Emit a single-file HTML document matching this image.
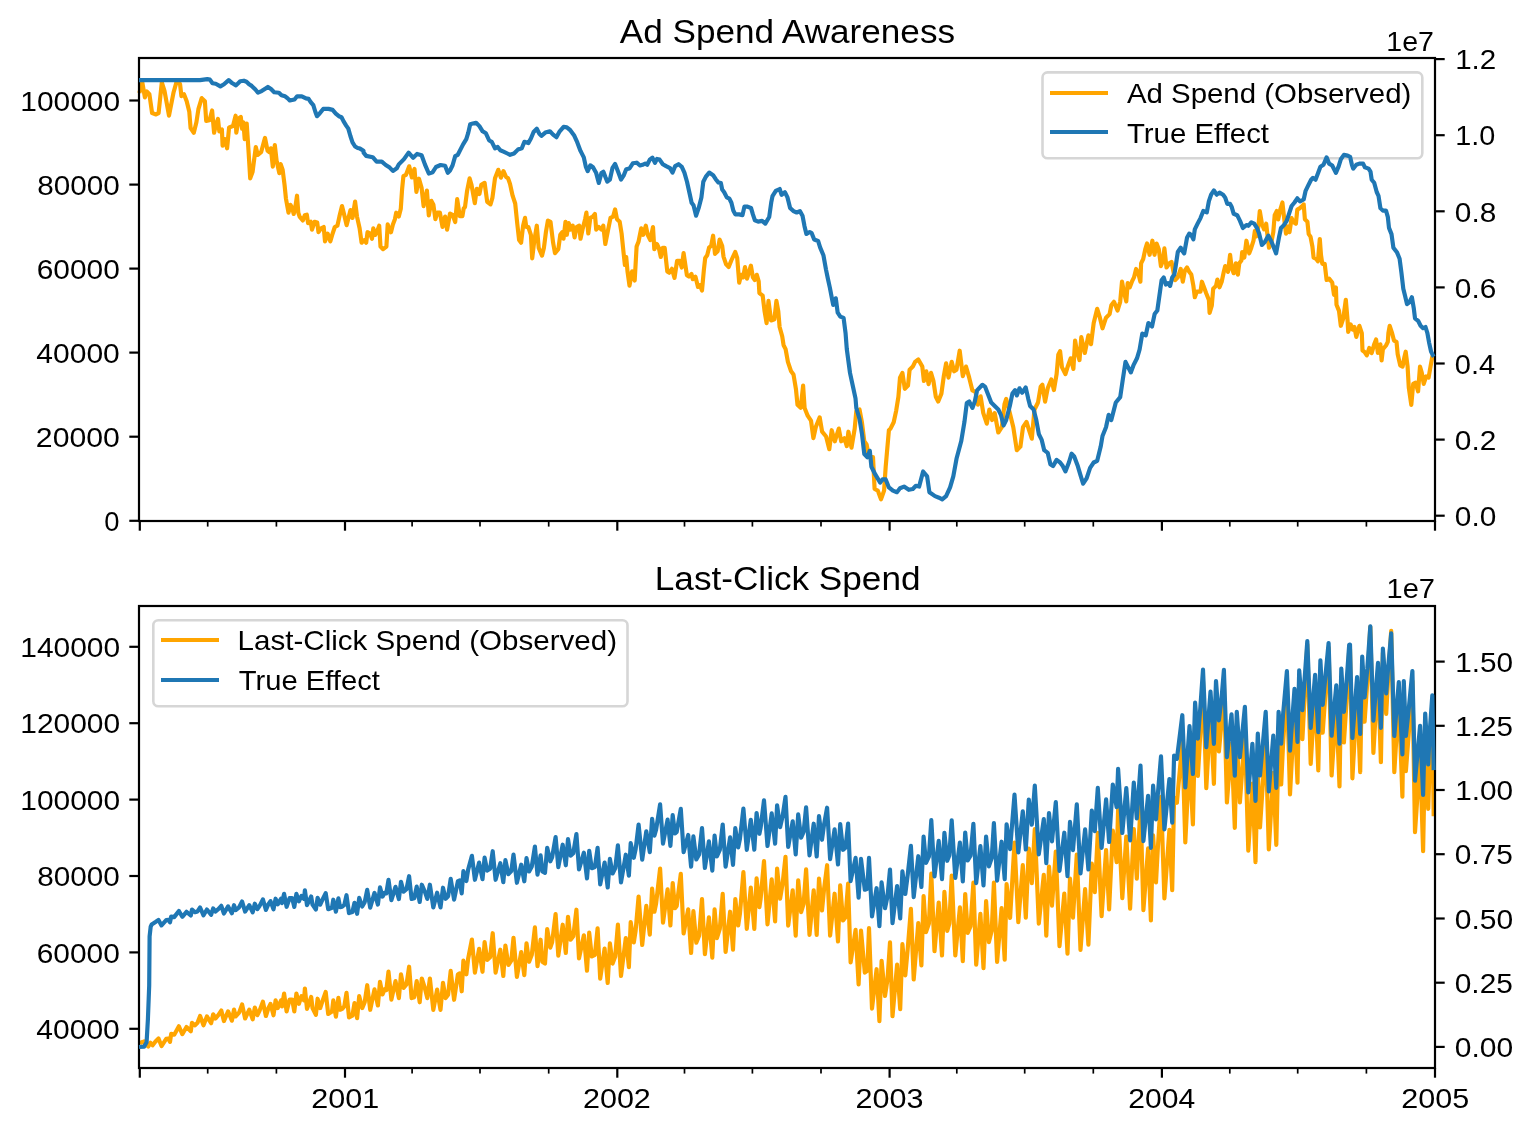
<!DOCTYPE html>
<html><head><meta charset="utf-8"><style>
html,body{margin:0;padding:0;background:#fff;overflow:hidden;}
svg{display:block;-webkit-font-smoothing:antialiased;will-change:transform;}
text{font-family:"Liberation Sans", sans-serif;fill:#000;}
</style></head><body>
<svg width="1532" height="1132" viewBox="0 0 1532 1132">
<rect width="1532" height="1132" fill="#fff"/>
<path d="M139.3,93.0 L140.3,89.6 L142.3,82.4 L144.9,97.4 L146.8,91.5 L149.4,94.2 L152.1,113.1 L156.0,114.4 L158.6,113.1 L161.8,82.4 L164.5,90.9 L169.0,115.7 L173.6,92.2 L176.2,83.1 L178.2,80.4 L180.1,84.4 L181.4,96.1 L184.0,94.2 L186.7,101.3 L189.3,111.8 L190.6,128.1 L193.8,132.7 L196.4,122.2 L198.4,109.2 L201.7,98.1 L204.9,101.3 L206.2,120.9 L209.5,120.3 L212.1,110.5 L214.1,132.7 L216.0,124.2 L218.0,119.0 L219.3,131.4 L221.9,129.4 L222.6,145.7 L225.2,139.2 L227.1,148.3 L229.1,127.4 L233.0,126.1 L235.6,115.7 L236.3,132.7 L238.9,118.3 L240.8,117.0 L242.1,128.7 L243.4,122.2 L244.7,139.2 L246.7,123.5 L248.7,153.6 L250.2,178.4 L252.6,171.8 L253.9,161.4 L255.8,147.0 L257.8,154.9 L261.1,152.2 L265.0,137.9 L267.6,150.9 L269.5,152.2 L270.9,148.3 L272.8,166.6 L274.8,145.1 L276.7,161.4 L279.3,173.1 L280.6,164.0 L282.6,169.6 L284.6,185.2 L285.9,198.3 L288.5,212.7 L290.4,204.8 L292.4,208.7 L293.7,214.0 L295.7,204.8 L297.0,195.7 L298.3,212.7 L299.6,216.6 L302.8,220.5 L304.8,215.3 L306.8,214.6 L308.1,223.1 L310.7,221.8 L312.0,229.6 L314.6,221.8 L317.2,222.5 L318.5,232.2 L321.1,228.3 L323.7,227.0 L325.0,241.4 L327.7,233.6 L330.3,241.4 L332.2,234.9 L334.8,227.0 L337.4,225.7 L339.4,216.6 L342.0,206.1 L344.0,214.0 L346.6,225.1 L348.5,217.9 L350.5,210.1 L352.5,217.9 L355.1,201.6 L357.0,216.6 L359.6,228.3 L361.6,242.7 L364.2,240.1 L366.2,242.7 L367.5,232.2 L370.1,233.6 L372.0,238.8 L373.3,228.3 L375.3,234.9 L377.3,230.9 L379.2,225.7 L380.5,246.6 L383.1,249.2 L386.4,246.6 L387.7,224.4 L389.0,228.3 L391.0,232.2 L392.9,224.4 L394.9,219.2 L396.2,212.7 L398.8,216.6 L400.8,208.7 L402.1,189.2 L403.4,176.1 L406.0,174.8 L409.2,166.3 L411.9,177.4 L414.5,168.9 L416.4,191.8 L419.0,178.7 L421.6,187.9 L423.6,206.1 L426.9,190.5 L428.8,215.3 L431.4,200.9 L433.4,204.8 L435.4,219.2 L437.3,212.7 L439.9,212.7 L442.5,227.0 L445.1,216.6 L447.1,229.6 L450.0,213.6 L452.6,214.9 L455.2,222.1 L457.2,199.2 L459.8,216.2 L462.4,216.2 L463.7,208.4 L465.0,207.0 L467.0,191.4 L469.6,178.3 L471.5,184.9 L474.8,203.1 L476.8,188.8 L479.4,194.0 L481.3,184.9 L484.6,182.9 L487.2,201.8 L490.5,204.4 L492.4,197.9 L495.0,178.3 L498.3,169.8 L500.9,177.7 L503.5,171.1 L506.1,177.0 L508.1,178.3 L510.0,183.9 L512.6,195.7 L515.2,203.5 L517.2,223.1 L519.1,240.1 L521.1,242.7 L523.1,225.7 L525.0,217.9 L526.3,227.0 L528.3,227.0 L530.9,234.8 L532.2,258.3 L534.2,241.4 L536.8,225.7 L538.7,247.9 L542.0,255.7 L543.9,247.9 L545.9,232.2 L547.9,220.5 L550.5,221.8 L553.1,242.7 L555.0,253.1 L558.3,249.2 L560.3,234.8 L562.2,232.2 L563.5,238.7 L565.5,221.8 L566.8,234.8 L568.7,223.1 L570.7,229.6 L572.7,225.7 L574.6,237.4 L576.6,227.0 L579.2,225.7 L580.5,238.7 L582.5,229.6 L585.1,219.2 L586.4,212.6 L588.3,233.5 L590.3,217.9 L592.9,216.6 L594.9,213.9 L596.2,229.6 L598.8,227.0 L601.4,229.6 L603.3,225.7 L605.3,244.0 L607.9,230.9 L610.5,217.9 L613.1,216.6 L615.1,209.4 L617.0,219.2 L619.7,221.8 L621.6,233.5 L623.6,253.1 L624.9,264.9 L626.2,257.0 L627.5,271.4 L629.5,285.7 L632.1,271.4 L634.7,280.5 L636.6,246.6 L638.6,241.4 L641.2,228.3 L643.2,234.8 L645.8,225.7 L647.7,234.8 L650.3,240.1 L653.0,227.0 L654.3,249.2 L656.9,244.0 L658.8,247.9 L660.8,257.0 L662.7,247.9 L664.7,247.9 L667.3,271.4 L669.3,272.7 L671.9,268.8 L674.5,277.9 L677.1,260.9 L679.7,260.9 L681.7,267.5 L683.6,253.1 L686.9,275.3 L688.9,276.6 L691.5,274.0 L692.8,279.2 L695.4,276.6 L698.0,287.0 L700.0,285.3 L702.0,290.5 L703.9,269.6 L705.2,257.9 L707.2,255.2 L709.1,247.4 L711.1,246.1 L713.1,235.7 L715.0,253.9 L717.6,251.3 L719.6,239.6 L722.2,246.1 L723.5,256.6 L726.1,264.4 L728.7,267.0 L731.3,260.5 L735.2,252.0 L737.2,257.9 L739.2,282.7 L741.1,274.8 L743.1,277.4 L745.0,267.0 L747.0,278.7 L749.0,272.2 L750.9,265.7 L752.9,277.4 L754.8,280.1 L756.8,274.8 L758.7,281.4 L759.4,293.1 L762.7,295.7 L764.6,311.4 L766.6,323.1 L768.5,300.9 L771.1,320.5 L774.4,319.2 L776.4,300.9 L778.3,311.4 L779.6,327.0 L782.2,336.2 L783.6,345.3 L785.6,349.1 L787.9,361.8 L791.1,371.3 L793.5,374.5 L795.9,388.8 L797.5,404.7 L800.7,407.9 L803.1,385.6 L804.6,407.9 L807.8,415.9 L811.0,420.6 L813.4,438.1 L815.8,427.0 L819.7,417.4 L822.1,431.7 L826.1,436.5 L829.3,449.2 L831.7,430.2 L834.8,441.3 L838.8,428.6 L841.2,441.3 L844.4,438.1 L846.8,446.1 L848.4,431.7 L851.5,447.6 L854.7,428.6 L856.3,411.1 L859.5,409.5 L861.9,422.2 L864.3,441.3 L866.6,444.5 L869.0,457.2 L873.0,457.2 L874.6,489.0 L877.8,490.6 L881.0,499.3 L884.1,490.6 L885.7,466.7 L888.9,430.2 L890.5,428.6 L893.7,422.2 L896.1,411.1 L898.4,396.8 L900.0,377.7 L902.4,372.9 L904.8,388.8 L908.0,385.6 L909.6,369.7 L912.8,366.6 L915.1,361.8 L918.3,359.4 L922.3,366.6 L923.9,380.9 L926.3,371.3 L928.6,384.1 L931.0,372.9 L933.4,380.9 L935.8,396.8 L938.2,401.5 L941.4,393.6 L943.8,376.1 L946.1,363.4 L948.5,377.7 L951.7,361.8 L954.1,371.3 L956.5,369.7 L959.7,350.7 L962.8,376.1 L966.0,366.6 L969.2,377.7 L972.4,390.4 L975.5,392.0 L977.9,404.7 L980.6,396.3 L983.3,413.1 L986.8,423.7 L989.4,409.5 L992.1,420.1 L994.7,413.1 L998.3,432.5 L1001.8,427.2 L1004.5,404.2 L1006.2,398.9 L1009.8,413.1 L1013.3,427.2 L1016.8,450.2 L1020.4,446.6 L1023.0,427.2 L1026.5,421.9 L1029.2,430.7 L1031.8,438.7 L1034.5,409.5 L1038.0,402.5 L1040.7,386.6 L1042.4,384.8 L1045.1,401.6 L1047.7,388.3 L1051.3,379.5 L1053.9,390.1 L1056.6,374.2 L1058.3,354.8 L1060.1,351.2 L1061.9,367.1 L1065.4,374.2 L1068.1,365.4 L1070.7,358.3 L1073.4,368.9 L1075.1,340.6 L1076.9,351.2 L1079.5,360.1 L1081.3,337.1 L1084.8,353.0 L1088.4,335.3 L1091.0,344.2 L1093.7,323.0 L1097.2,308.8 L1099.9,317.7 L1102.5,328.3 L1106.0,317.7 L1109.6,314.1 L1111.3,305.3 L1114.0,301.8 L1117.5,310.6 L1120.2,301.8 L1122.0,281.7 L1124.1,293.0 L1126.3,301.4 L1127.7,283.1 L1129.8,287.3 L1131.9,281.7 L1134.0,277.4 L1136.1,268.9 L1138.3,273.2 L1140.4,281.7 L1141.1,263.3 L1143.2,259.0 L1145.3,249.2 L1147.0,243.5 L1149.6,254.8 L1152.4,240.7 L1154.5,254.8 L1156.6,243.5 L1158.8,249.2 L1160.9,266.1 L1163.0,260.5 L1164.4,248.4 L1166.5,267.5 L1169.4,263.3 L1171.5,261.9 L1172.9,268.9 L1175.0,280.2 L1177.8,277.4 L1180.7,268.9 L1182.8,281.7 L1184.9,270.4 L1187.0,267.5 L1189.2,271.8 L1191.3,274.6 L1193.4,285.9 L1194.8,297.2 L1196.9,291.6 L1200.5,291.6 L1201.9,281.7 L1204.0,287.3 L1206.1,293.0 L1208.9,300.0 L1209.6,312.8 L1211.8,305.7 L1213.2,288.7 L1216.0,285.9 L1217.4,279.5 L1219.5,287.3 L1221.7,281.7 L1223.8,271.8 L1225.2,266.1 L1228.0,271.8 L1230.1,254.8 L1231.6,267.5 L1233.7,273.2 L1235.8,263.3 L1237.9,274.6 L1239.3,263.3 L1241.4,260.5 L1242.2,252.0 L1244.3,257.6 L1246.4,240.7 L1249.2,253.4 L1251.3,247.7 L1253.5,240.7 L1254.9,230.8 L1256.3,236.4 L1258.4,226.5 L1259.8,211.0 L1261.9,223.7 L1264.1,229.4 L1266.2,223.7 L1267.6,236.4 L1269.0,247.7 L1271.1,243.5 L1273.3,232.2 L1274.7,215.2 L1276.8,211.0 L1278.2,219.5 L1280.3,209.6 L1282.4,202.5 L1284.6,222.3 L1286.0,233.6 L1288.1,226.5 L1289.5,232.2 L1291.6,218.1 L1293.7,222.3 L1295.9,223.7 L1297.3,209.6 L1300.0,208.1 L1302.5,205.7 L1303.7,204.4 L1304.9,219.3 L1307.4,221.7 L1308.7,234.1 L1310.5,236.6 L1312.4,246.5 L1313.6,257.6 L1316.1,258.8 L1317.9,261.3 L1319.8,239.0 L1321.0,255.1 L1322.3,263.8 L1324.7,263.8 L1326.6,279.9 L1329.1,278.6 L1332.2,282.5 L1334.0,294.8 L1335.9,287.4 L1336.5,304.7 L1339.0,310.9 L1340.8,325.8 L1343.3,318.3 L1345.8,299.8 L1347.6,320.8 L1348.2,331.9 L1350.7,324.5 L1352.6,329.5 L1354.4,327.0 L1356.3,336.9 L1359.4,325.8 L1361.8,333.2 L1362.5,350.5 L1364.3,351.7 L1366.8,355.4 L1369.3,348.0 L1371.7,353.0 L1374.2,344.3 L1376.1,339.4 L1377.9,353.0 L1380.4,344.3 L1381.6,360.4 L1382.9,349.3 L1386.0,345.5 L1387.8,341.8 L1388.4,333.2 L1389.7,325.8 L1392.1,333.2 L1394.0,340.6 L1396.5,341.8 L1397.7,354.2 L1400.2,365.3 L1402.6,366.6 L1404.5,356.7 L1405.7,351.7 L1407.6,366.6 L1408.8,387.6 L1411.3,404.9 L1413.2,383.9 L1415.6,382.6 L1418.1,391.3 L1420.0,366.6 L1421.8,372.8 L1423.7,383.9 L1426.1,376.5 L1428.6,377.7 L1430.5,366.6 L1432.3,356.7 L1433.6,355.4" fill="none" stroke="#ffa500" stroke-width="4.17" stroke-linejoin="round"/>
<path d="M139.8,1041.5 L141.5,1042.7 L144.1,1041.5 L145.8,1044.0 L148.3,1046.6 L150.5,1042.7 L152.6,1045.3 L155.5,1041.5 L158.5,1038.5 L161.5,1046.1 L166.2,1038.9 L168.3,1038.5 L170.0,1041.9 L171.2,1033.8 L174.2,1034.7 L176.3,1030.9 L178.9,1026.2 L182.3,1034.2 L186.5,1027.0 L190.8,1031.3 L192.0,1022.8 L195.0,1025.3 L197.5,1022.8 L200.1,1016.0 L203.5,1025.3 L206.9,1016.4 L211.1,1023.2 L213.2,1014.3 L215.4,1018.5 L218.3,1015.2 L221.3,1010.5 L223.9,1021.1 L228.1,1011.3 L231.9,1020.7 L234.0,1009.6 L235.7,1016.4 L239.1,1012.6 L242.1,1004.5 L245.1,1018.5 L249.3,1009.6 L252.7,1019.4 L254.8,1007.5 L257.4,1015.2 L259.5,1010.9 L262.9,1001.6 L265.9,1016.0 L268.4,1008.1 L270.5,1003.8 L273.5,1015.3 L275.6,1000.4 L277.7,1008.1 L281.1,1000.4 L282.0,1006.4 L284.1,993.6 L286.6,1011.5 L289.6,999.6 L292.2,999.6 L294.3,1011.5 L296.4,993.6 L298.9,1003.8 L301.5,996.2 L304.0,1000.4 L304.9,988.5 L307.0,1008.9 L311.2,997.0 L312.5,1008.1 L315.9,1014.9 L317.6,998.7 L320.2,1008.1 L322.7,1000.4 L325.7,991.9 L328.2,1014.0 L332.0,1011.5 L333.3,1000.4 L335.9,1016.6 L338.4,997.9 L340.1,1009.8 L342.2,1008.9 L344.3,1006.4 L346.5,992.8 L349.0,1017.4 L352.4,1015.7 L354.5,1003.0 L357.1,1018.2 L359.2,996.2 L362.2,1008.1 L364.7,1002.1 L367.2,985.2 L370.2,1009.8 L374.5,989.4 L377.9,1005.5 L380.0,981.8 L382.5,994.5 L384.6,989.4 L386.3,990.2 L388.5,971.6 L391.4,999.6 L395.5,981.1 L398.9,998.1 L401.0,974.3 L403.6,987.9 L406.5,984.5 L409.1,966.7 L411.6,998.1 L414.2,997.2 L416.7,981.1 L419.7,1002.3 L421.8,978.5 L424.8,987.9 L427.3,998.1 L429.9,978.5 L433.3,1009.9 L437.1,989.6 L440.5,1009.9 L443.0,982.8 L445.6,998.1 L448.1,994.7 L450.7,970.9 L454.1,999.8 L457.9,974.3 L459.6,973.5 L461.7,991.3 L463.4,960.7 L466.4,974.3 L468.1,959.0 L471.9,939.5 L474.9,972.6 L479.1,948.9 L482.5,971.8 L484.6,942.1 L487.2,959.9 L490.1,957.3 L492.7,933.2 L495.6,972.6 L500.3,949.7 L503.3,976.0 L505.4,945.5 L508.4,965.0 L511.3,960.7 L513.5,937.8 L516.9,976.9 L521.2,952.1 L524.3,975.1 L526.5,943.3 L529.1,961.8 L531.8,954.8 L534.9,927.4 L537.5,966.2 L540.6,939.7 L542.4,961.8 L545.0,963.6 L547.2,929.1 L550.3,947.7 L552.1,942.4 L555.6,914.1 L558.3,955.6 L562.7,924.7 L565.8,953.0 L568.0,916.8 L570.6,939.7 L573.3,936.2 L576.4,909.7 L579.0,958.3 L583.9,935.3 L587.0,970.7 L589.2,932.7 L591.8,956.5 L594.9,954.8 L597.6,928.3 L600.2,978.6 L604.6,948.6 L607.7,983.0 L609.9,943.3 L612.6,963.6 L615.2,956.5 L617.9,924.7 L621.0,976.0 L625.8,938.0 L628.9,967.1 L630.7,922.1 L633.8,942.4 L635.6,930.9 L638.6,896.5 L642.2,945.0 L646.3,905.9 L649.8,934.6 L652.1,888.7 L654.4,911.7 L656.1,903.6 L660.1,868.6 L663.0,922.6 L667.6,889.3 L670.4,925.5 L672.7,883.0 L675.0,908.2 L676.7,905.9 L680.8,873.8 L683.6,933.5 L688.2,909.4 L691.1,953.0 L693.4,911.1 L696.3,942.7 L699.1,935.8 L702.0,899.0 L704.9,954.2 L708.9,917.4 L712.3,957.6 L714.6,909.4 L716.9,938.1 L719.8,928.9 L722.7,893.9 L725.6,951.9 L730.1,911.7 L733.0,949.6 L735.3,899.0 L738.2,925.5 L739.9,914.0 L743.4,872.1 L746.8,928.9 L750.8,887.6 L754.3,928.9 L756.6,878.4 L759.4,907.1 L760.6,899.0 L764.0,861.1 L767.5,924.3 L771.7,879.4 L775.1,921.4 L777.1,868.5 L780.1,898.7 L782.6,883.6 L785.5,856.8 L788.2,925.6 L792.7,890.3 L795.7,935.6 L798.2,880.3 L801.1,912.1 L803.6,903.8 L806.1,869.4 L809.5,934.8 L813.7,890.3 L816.7,934.8 L819.0,878.6 L822.0,910.5 L824.1,888.7 L827.1,865.2 L830.1,935.6 L834.6,893.7 L838.0,941.5 L840.2,885.3 L843.0,920.5 L845.5,917.2 L848.1,883.6 L850.6,962.5 L855.6,929.8 L858.6,984.3 L861.0,930.6 L864.8,972.6 L867.3,970.9 L869.0,928.1 L872.0,1008.6 L876.6,969.2 L879.4,1021.2 L881.6,960.8 L885.0,996.0 L887.5,979.3 L890.0,942.3 L892.5,1016.2 L897.1,964.7 L900.2,1009.2 L902.4,944.2 L905.3,975.3 L907.7,949.1 L910.9,908.9 L913.7,979.5 L918.3,923.0 L921.4,965.4 L923.6,896.1 L926.0,932.2 L928.9,923.7 L931.3,873.5 L934.5,951.2 L938.7,902.5 L942.0,955.5 L944.4,891.9 L947.2,930.8 L949.3,923.7 L951.7,875.7 L955.3,955.5 L959.9,907.4 L962.8,961.1 L965.2,894.0 L967.7,932.9 L970.5,926.5 L973.4,882.7 L976.2,964.7 L980.4,913.8 L983.5,968.2 L986.1,901.1 L988.9,942.1 L991.7,930.8 L993.9,882.7 L997.1,961.8 L1001.6,908.2 L1004.7,959.7 L1006.6,884.1 L1010.1,918.0 L1014.5,842.5 L1018.3,922.1 L1022.8,865.1 L1025.8,917.6 L1028.8,848.5 L1031.8,883.1 L1034.8,829.0 L1038.8,923.6 L1043.8,874.8 L1046.3,935.6 L1049.0,866.6 L1052.0,905.6 L1055.8,851.5 L1059.5,946.1 L1064.3,893.6 L1067.5,953.6 L1070.0,878.6 L1073.0,917.6 L1076.8,854.5 L1080.5,949.9 L1085.1,889.1 L1088.4,944.6 L1091.8,863.6 L1094.8,892.1 L1097.8,832.8 L1101.6,916.1 L1106.1,850.0 L1109.1,909.3 L1112.8,830.5 L1116.6,862.1 L1118.1,809.5 L1122.3,898.1 L1126.3,836.5 L1130.1,908.6 L1133.8,829.0 L1136.8,878.6 L1140.5,805.9 L1143.4,910.2 L1148.1,848.3 L1150.9,920.5 L1153.1,835.3 L1156.0,882.4 L1157.7,850.5 L1161.0,796.9 L1164.4,898.4 L1169.4,829.8 L1172.2,890.2 L1174.1,797.8 L1176.9,802.7 L1182.3,742.7 L1185.3,842.4 L1189.5,758.1 L1192.9,824.4 L1195.1,726.2 L1197.9,776.0 L1200.4,732.1 L1203.0,681.0 L1206.3,788.1 L1210.5,711.8 L1213.9,783.8 L1216.0,697.3 L1218.9,751.5 L1221.4,723.7 L1223.9,682.1 L1226.9,802.5 L1231.5,743.4 L1234.8,827.8 L1236.8,739.9 L1239.9,802.3 L1244.9,732.7 L1248.3,850.7 L1252.4,783.6 L1255.5,862.2 L1257.8,769.7 L1260.0,827.3 L1265.7,739.7 L1268.8,849.4 L1273.3,772.8 L1276.3,844.8 L1278.6,740.3 L1281.2,784.3 L1283.0,745.4 L1286.9,684.6 L1290.0,794.4 L1294.5,709.4 L1297.5,782.7 L1299.2,684.2 L1302.4,739.1 L1307.3,644.3 L1310.7,763.9 L1315.1,691.0 L1318.3,770.4 L1320.4,671.3 L1322.7,732.7 L1325.4,693.8 L1328.6,647.6 L1331.6,775.5 L1336.3,706.1 L1339.5,786.5 L1341.3,682.8 L1343.9,742.5 L1346.6,700.9 L1349.2,649.7 L1350.0,649.4 L1352.4,778.3 L1357.1,693.9 L1360.2,772.2 L1362.2,665.6 L1364.6,721.6 L1367.3,682.1 L1370.3,626.8 L1373.4,753.0 L1378.0,672.8 L1380.9,762.1 L1382.9,652.7 L1386.2,714.0 L1388.2,677.4 L1391.2,630.9 L1394.3,772.2 L1398.8,697.4 L1402.4,796.7 L1403.8,695.6 L1405.9,771.2 L1408.9,731.6 L1412.4,681.0 L1415.0,832.1 L1420.1,756.1 L1423.1,851.2 L1425.2,738.9 L1428.2,808.8 L1429.6,766.6 L1432.3,713.2 L1433.7,816.3" fill="none" stroke="#ffa500" stroke-width="4.17" stroke-linejoin="round"/>
<rect x="139.0" y="58" width="1296.0" height="463" fill="none" stroke="#000" stroke-width="2.2"/>
<line x1="139.8" y1="521" x2="139.8" y2="530.7" stroke="#000" stroke-width="2.2"/>
<line x1="345.0" y1="521" x2="345.0" y2="530.7" stroke="#000" stroke-width="2.2"/>
<line x1="617.3" y1="521" x2="617.3" y2="530.7" stroke="#000" stroke-width="2.2"/>
<line x1="889.6" y1="521" x2="889.6" y2="530.7" stroke="#000" stroke-width="2.2"/>
<line x1="1161.9" y1="521" x2="1161.9" y2="530.7" stroke="#000" stroke-width="2.2"/>
<line x1="1435.0" y1="521" x2="1435.0" y2="530.7" stroke="#000" stroke-width="2.2"/>
<line x1="207.7" y1="521" x2="207.7" y2="526.6" stroke="#000" stroke-width="1.7"/>
<line x1="276.4" y1="521" x2="276.4" y2="526.6" stroke="#000" stroke-width="1.7"/>
<line x1="412.1" y1="521" x2="412.1" y2="526.6" stroke="#000" stroke-width="1.7"/>
<line x1="480.0" y1="521" x2="480.0" y2="526.6" stroke="#000" stroke-width="1.7"/>
<line x1="548.7" y1="521" x2="548.7" y2="526.6" stroke="#000" stroke-width="1.7"/>
<line x1="684.5" y1="521" x2="684.5" y2="526.6" stroke="#000" stroke-width="1.7"/>
<line x1="752.4" y1="521" x2="752.4" y2="526.6" stroke="#000" stroke-width="1.7"/>
<line x1="821.0" y1="521" x2="821.0" y2="526.6" stroke="#000" stroke-width="1.7"/>
<line x1="956.8" y1="521" x2="956.8" y2="526.6" stroke="#000" stroke-width="1.7"/>
<line x1="1024.7" y1="521" x2="1024.7" y2="526.6" stroke="#000" stroke-width="1.7"/>
<line x1="1093.3" y1="521" x2="1093.3" y2="526.6" stroke="#000" stroke-width="1.7"/>
<line x1="1229.8" y1="521" x2="1229.8" y2="526.6" stroke="#000" stroke-width="1.7"/>
<line x1="1297.7" y1="521" x2="1297.7" y2="526.6" stroke="#000" stroke-width="1.7"/>
<line x1="1366.4" y1="521" x2="1366.4" y2="526.6" stroke="#000" stroke-width="1.7"/>
<line x1="129.3" y1="520.8" x2="139.0" y2="520.8" stroke="#000" stroke-width="2.2"/>
<line x1="129.3" y1="436.7" x2="139.0" y2="436.7" stroke="#000" stroke-width="2.2"/>
<line x1="129.3" y1="352.6" x2="139.0" y2="352.6" stroke="#000" stroke-width="2.2"/>
<line x1="129.3" y1="268.6" x2="139.0" y2="268.6" stroke="#000" stroke-width="2.2"/>
<line x1="129.3" y1="184.6" x2="139.0" y2="184.6" stroke="#000" stroke-width="2.2"/>
<line x1="129.3" y1="100.5" x2="139.0" y2="100.5" stroke="#000" stroke-width="2.2"/>
<line x1="1435.0" y1="515.7" x2="1444.7" y2="515.7" stroke="#000" stroke-width="2.2"/>
<line x1="1435.0" y1="439.6" x2="1444.7" y2="439.6" stroke="#000" stroke-width="2.2"/>
<line x1="1435.0" y1="363.5" x2="1444.7" y2="363.5" stroke="#000" stroke-width="2.2"/>
<line x1="1435.0" y1="287.4" x2="1444.7" y2="287.4" stroke="#000" stroke-width="2.2"/>
<line x1="1435.0" y1="211.3" x2="1444.7" y2="211.3" stroke="#000" stroke-width="2.2"/>
<line x1="1435.0" y1="135.2" x2="1444.7" y2="135.2" stroke="#000" stroke-width="2.2"/>
<line x1="1435.0" y1="59.1" x2="1444.7" y2="59.1" stroke="#000" stroke-width="2.2"/>
<rect x="139.0" y="606" width="1296.0" height="462" fill="none" stroke="#000" stroke-width="2.2"/>
<line x1="139.8" y1="1068" x2="139.8" y2="1077.7" stroke="#000" stroke-width="2.2"/>
<line x1="345.0" y1="1068" x2="345.0" y2="1077.7" stroke="#000" stroke-width="2.2"/>
<line x1="617.3" y1="1068" x2="617.3" y2="1077.7" stroke="#000" stroke-width="2.2"/>
<line x1="889.6" y1="1068" x2="889.6" y2="1077.7" stroke="#000" stroke-width="2.2"/>
<line x1="1161.9" y1="1068" x2="1161.9" y2="1077.7" stroke="#000" stroke-width="2.2"/>
<line x1="1435.0" y1="1068" x2="1435.0" y2="1077.7" stroke="#000" stroke-width="2.2"/>
<line x1="207.7" y1="1068" x2="207.7" y2="1073.6" stroke="#000" stroke-width="1.7"/>
<line x1="276.4" y1="1068" x2="276.4" y2="1073.6" stroke="#000" stroke-width="1.7"/>
<line x1="412.1" y1="1068" x2="412.1" y2="1073.6" stroke="#000" stroke-width="1.7"/>
<line x1="480.0" y1="1068" x2="480.0" y2="1073.6" stroke="#000" stroke-width="1.7"/>
<line x1="548.7" y1="1068" x2="548.7" y2="1073.6" stroke="#000" stroke-width="1.7"/>
<line x1="684.5" y1="1068" x2="684.5" y2="1073.6" stroke="#000" stroke-width="1.7"/>
<line x1="752.4" y1="1068" x2="752.4" y2="1073.6" stroke="#000" stroke-width="1.7"/>
<line x1="821.0" y1="1068" x2="821.0" y2="1073.6" stroke="#000" stroke-width="1.7"/>
<line x1="956.8" y1="1068" x2="956.8" y2="1073.6" stroke="#000" stroke-width="1.7"/>
<line x1="1024.7" y1="1068" x2="1024.7" y2="1073.6" stroke="#000" stroke-width="1.7"/>
<line x1="1093.3" y1="1068" x2="1093.3" y2="1073.6" stroke="#000" stroke-width="1.7"/>
<line x1="1229.8" y1="1068" x2="1229.8" y2="1073.6" stroke="#000" stroke-width="1.7"/>
<line x1="1297.7" y1="1068" x2="1297.7" y2="1073.6" stroke="#000" stroke-width="1.7"/>
<line x1="1366.4" y1="1068" x2="1366.4" y2="1073.6" stroke="#000" stroke-width="1.7"/>
<line x1="129.3" y1="1028.8" x2="139.0" y2="1028.8" stroke="#000" stroke-width="2.2"/>
<line x1="129.3" y1="952.4" x2="139.0" y2="952.4" stroke="#000" stroke-width="2.2"/>
<line x1="129.3" y1="876.0" x2="139.0" y2="876.0" stroke="#000" stroke-width="2.2"/>
<line x1="129.3" y1="799.6" x2="139.0" y2="799.6" stroke="#000" stroke-width="2.2"/>
<line x1="129.3" y1="723.2" x2="139.0" y2="723.2" stroke="#000" stroke-width="2.2"/>
<line x1="129.3" y1="646.8" x2="139.0" y2="646.8" stroke="#000" stroke-width="2.2"/>
<line x1="1435.0" y1="1046.9" x2="1444.7" y2="1046.9" stroke="#000" stroke-width="2.2"/>
<line x1="1435.0" y1="982.7" x2="1444.7" y2="982.7" stroke="#000" stroke-width="2.2"/>
<line x1="1435.0" y1="918.5" x2="1444.7" y2="918.5" stroke="#000" stroke-width="2.2"/>
<line x1="1435.0" y1="854.2" x2="1444.7" y2="854.2" stroke="#000" stroke-width="2.2"/>
<line x1="1435.0" y1="790.0" x2="1444.7" y2="790.0" stroke="#000" stroke-width="2.2"/>
<line x1="1435.0" y1="725.8" x2="1444.7" y2="725.8" stroke="#000" stroke-width="2.2"/>
<line x1="1435.0" y1="661.6" x2="1444.7" y2="661.6" stroke="#000" stroke-width="2.2"/>
<rect x="1042.5" y="72.4" width="379.8" height="85.9" rx="5" ry="5" fill="#fff" fill-opacity="0.8" stroke="#d6d6d6" stroke-width="2.6"/>
<line x1="1050" y1="93" x2="1108" y2="93" stroke="#ffa500" stroke-width="4.17"/>
<line x1="1050" y1="132" x2="1108" y2="132" stroke="#1f77b4" stroke-width="4.17"/>
<rect x="153.3" y="620.2" width="474.2" height="86.1" rx="5" ry="5" fill="#fff" fill-opacity="0.8" stroke="#d6d6d6" stroke-width="2.6"/>
<line x1="161" y1="640" x2="219" y2="640" stroke="#ffa500" stroke-width="4.17"/>
<line x1="161" y1="680" x2="219" y2="680" stroke="#1f77b4" stroke-width="4.17"/>
<path d="M139.0,80.2 L200.0,80.1 L207.3,79.1 L209.9,79.6 L212.5,83.3 L215.7,83.8 L220.4,86.4 L224.0,84.3 L228.7,80.1 L232.4,83.3 L236.0,85.4 L240.2,81.2 L243.9,80.7 L246.5,81.7 L249.1,84.3 L251.7,85.9 L255.4,89.5 L258.0,92.7 L261.6,91.1 L264.8,89.0 L267.9,86.9 L271.0,89.0 L274.2,92.2 L278.9,92.7 L281.5,95.3 L285.1,96.3 L287.7,98.4 L289.8,100.5 L294.5,99.5 L297.1,96.3 L301.8,96.3 L306.0,98.4 L308.6,98.9 L310.7,102.1 L313.3,105.2 L315.4,112.0 L317.0,116.2 L319.6,113.6 L323.2,108.9 L328.5,108.9 L332.6,109.9 L335.8,113.6 L338.9,116.2 L341.5,117.2 L343.6,121.4 L346.2,125.6 L348.3,128.7 L350.4,136.0 L352.5,142.3 L355.1,146.5 L357.7,148.0 L360.0,148.6 L363.5,150.7 L363.6,152.6 L366.2,155.9 L372.7,157.2 L376.6,161.7 L381.8,161.7 L385.7,165.0 L389.7,167.6 L392.9,170.9 L396.8,168.3 L398.8,164.4 L404.0,159.1 L408.6,152.6 L413.2,157.8 L417.1,153.9 L421.6,155.2 L424.9,164.4 L428.8,173.5 L432.7,172.2 L436.0,167.0 L440.6,165.0 L445.1,165.7 L447.8,172.8 L450.0,170.5 L452.6,165.3 L455.2,156.1 L457.8,154.8 L460.4,149.6 L463.1,144.4 L466.3,139.2 L468.3,132.6 L470.2,124.2 L472.8,123.5 L476.1,122.8 L479.4,126.1 L482.6,131.3 L485.9,133.3 L489.2,140.5 L491.8,141.8 L495.0,148.3 L497.7,147.0 L500.3,150.3 L503.5,151.6 L507.4,153.5 L510.1,154.8 L514.0,153.5 L517.9,149.6 L521.8,148.3 L524.4,141.8 L528.3,143.1 L530.9,138.5 L533.6,132.0 L536.8,128.7 L539.4,133.9 L541.4,135.9 L545.3,132.6 L549.9,131.3 L553.1,134.6 L556.4,137.2 L559.7,131.3 L563.6,126.8 L566.8,127.4 L570.1,130.0 L574.0,135.2 L577.3,142.4 L580.5,150.9 L583.8,157.4 L585.8,166.6 L587.7,171.1 L590.3,165.3 L593.0,167.2 L596.2,173.1 L598.8,182.9 L601.4,173.1 L603.4,171.8 L605.4,177.0 L607.3,181.6 L609.9,179.6 L612.5,167.9 L615.1,164.0 L618.4,172.5 L621.0,179.6 L623.6,175.7 L626.2,169.2 L629.5,168.5 L632.8,163.3 L636.7,162.7 L640.0,165.5 L642.6,164.8 L645.2,163.5 L647.2,164.8 L649.8,159.6 L652.4,157.6 L655.0,162.8 L657.0,158.9 L659.6,159.6 L662.8,164.2 L666.1,166.1 L670.0,168.1 L672.6,172.6 L675.2,166.1 L678.5,164.2 L681.8,166.8 L684.4,172.6 L687.0,181.8 L689.6,193.5 L691.6,202.7 L693.5,205.3 L696.1,215.7 L698.7,207.9 L701.4,197.4 L703.3,181.8 L705.9,176.6 L709.2,172.6 L713.1,175.2 L715.7,179.2 L718.3,182.4 L720.9,183.1 L722.2,189.6 L724.2,192.2 L726.8,197.4 L729.4,198.7 L731.4,202.7 L733.3,210.5 L735.3,214.4 L739.2,214.4 L742.5,215.1 L744.4,206.6 L747.0,206.6 L751.0,207.9 L752.9,214.4 L754.9,220.3 L758.1,221.6 L762.1,220.9 L765.3,223.6 L769.2,217.0 L771.2,202.7 L772.5,196.1 L775.8,190.9 L779.7,189.0 L781.6,194.8 L784.9,192.2 L787.5,197.4 L790.1,207.9 L793.4,211.1 L796.7,212.5 L799.9,211.1 L802.5,215.7 L804.5,226.2 L806.4,234.0 L809.7,232.0 L811.6,233.1 L814.2,239.6 L818.1,240.9 L820.1,247.4 L823.4,255.2 L826.0,269.6 L827.9,278.7 L829.9,287.9 L831.9,298.3 L833.2,304.9 L835.8,298.3 L837.7,312.7 L840.3,316.6 L843.6,317.9 L845.6,333.6 L846.8,349.1 L850.0,372.9 L853.1,387.2 L855.5,398.4 L856.3,407.9 L859.5,419.0 L861.9,433.3 L864.3,454.0 L867.4,457.2 L869.8,450.8 L871.4,466.7 L875.4,474.7 L880.2,482.6 L882.5,479.4 L885.7,479.4 L888.9,487.4 L892.9,490.6 L896.9,492.2 L900.0,488.2 L904.0,486.6 L908.8,489.8 L912.8,489.0 L915.9,485.8 L919.1,486.6 L923.1,471.5 L927.1,476.3 L929.4,492.2 L935.0,496.1 L939.0,497.7 L942.2,499.3 L946.1,496.1 L950.1,487.4 L953.3,476.3 L956.5,458.8 L961.2,441.3 L964.4,422.2 L966.8,403.1 L969.2,401.5 L972.4,407.9 L974.8,401.5 L977.1,390.4 L982.4,384.8 L985.0,386.6 L987.7,393.6 L991.2,402.5 L994.7,406.0 L998.3,409.5 L1000.9,414.8 L1003.6,425.4 L1006.2,420.1 L1009.8,406.0 L1012.4,393.6 L1015.1,390.1 L1016.8,395.4 L1019.5,388.3 L1022.1,392.8 L1025.7,387.5 L1028.3,398.9 L1030.1,406.0 L1033.6,409.5 L1036.3,420.1 L1038.9,434.3 L1041.6,439.6 L1044.2,450.2 L1047.7,452.8 L1050.4,464.3 L1053.0,466.1 L1056.6,459.9 L1060.1,462.5 L1062.8,466.1 L1065.4,471.4 L1068.9,462.5 L1071.6,453.7 L1074.2,456.4 L1077.8,466.1 L1080.4,474.9 L1083.1,483.7 L1086.6,478.4 L1090.1,467.8 L1093.7,462.5 L1097.2,460.8 L1100.7,446.6 L1102.5,436.0 L1106.0,427.2 L1108.7,414.8 L1111.3,420.1 L1114.0,409.5 L1115.8,402.5 L1120.2,397.2 L1122.8,379.5 L1125.5,361.8 L1128.1,367.1 L1130.8,372.4 L1133.4,365.4 L1137.0,358.3 L1139.6,349.5 L1142.3,333.6 L1145.8,335.3 L1148.4,323.0 L1152.0,326.5 L1154.6,314.1 L1157.3,310.6 L1160.2,290.1 L1161.6,280.2 L1163.7,277.4 L1165.8,284.5 L1168.0,283.1 L1170.1,285.9 L1172.2,277.4 L1174.3,274.6 L1175.7,266.1 L1177.8,252.0 L1180.7,247.7 L1182.1,250.6 L1184.2,253.4 L1187.0,237.8 L1189.2,233.6 L1191.3,235.0 L1193.4,239.3 L1194.8,229.4 L1197.6,223.7 L1200.5,218.1 L1203.3,211.0 L1206.8,212.4 L1208.9,201.1 L1211.1,194.7 L1213.9,190.5 L1216.7,194.7 L1219.5,192.6 L1223.1,194.7 L1225.2,197.6 L1227.3,203.9 L1230.1,203.9 L1231.6,206.7 L1233.7,213.8 L1237.2,215.2 L1240.0,220.9 L1242.9,228.0 L1246.4,225.1 L1248.5,225.8 L1251.3,222.3 L1254.2,223.7 L1257.0,228.0 L1259.1,233.6 L1261.9,244.9 L1264.8,242.1 L1268.3,235.7 L1271.1,240.7 L1273.3,246.3 L1276.1,253.4 L1278.9,237.8 L1281.0,228.0 L1283.9,225.1 L1286.7,220.9 L1289.5,212.4 L1291.6,206.0 L1294.5,202.5 L1297.3,198.3 L1300.0,201.3 L1303.7,199.5 L1305.6,190.8 L1308.0,185.9 L1311.1,179.7 L1313.0,177.8 L1315.5,179.7 L1317.9,173.5 L1320.4,166.7 L1323.5,164.8 L1326.6,157.4 L1329.1,163.6 L1332.2,165.5 L1335.9,172.9 L1338.3,167.3 L1340.8,159.3 L1343.9,154.9 L1347.6,155.6 L1350.1,156.8 L1351.9,164.8 L1353.2,168.6 L1356.3,164.8 L1359.4,163.6 L1363.1,163.6 L1364.9,167.3 L1368.6,168.6 L1370.5,171.6 L1371.7,179.7 L1374.2,182.8 L1376.7,192.0 L1378.5,195.8 L1380.4,208.1 L1382.9,210.6 L1386.0,210.6 L1387.8,216.8 L1389.0,227.9 L1391.5,234.1 L1393.4,247.7 L1397.1,252.6 L1399.6,258.8 L1401.4,272.4 L1403.3,288.7 L1405.1,296.1 L1407.0,304.1 L1409.4,302.3 L1411.9,297.3 L1413.8,308.4 L1415.0,318.3 L1418.1,320.8 L1420.6,325.8 L1423.1,328.2 L1425.5,327.0 L1427.4,333.2 L1429.2,343.1 L1431.1,351.7 L1432.9,355.4 L1433.8,356.7" fill="none" stroke="#1f77b4" stroke-width="4.17" stroke-linejoin="round"/>
<path d="M139.0,1047.0 L144.1,1046.6 L146.6,1042.3 L147.9,1019.4 L149.2,985.5 L149.6,936.5 L150.7,926.6 L151.7,924.5 L155.5,922.0 L158.5,919.9 L161.5,925.4 L166.2,920.1 L168.3,919.9 L170.0,922.3 L171.2,916.5 L174.2,917.1 L176.3,914.4 L178.9,911.0 L182.3,916.8 L186.5,911.8 L190.8,915.5 L192.0,909.5 L195.0,912.2 L197.5,911.4 L200.1,907.5 L203.5,915.3 L206.9,909.5 L211.1,914.8 L213.2,908.4 L215.4,911.5 L218.3,909.2 L221.3,905.8 L223.9,913.5 L228.1,906.4 L231.9,913.2 L234.0,905.2 L235.7,910.1 L239.1,907.3 L242.1,901.5 L245.1,911.6 L249.3,905.2 L252.7,912.3 L254.8,903.7 L257.4,909.2 L259.5,906.1 L262.9,899.4 L265.9,909.9 L268.4,904.2 L270.5,901.1 L273.5,909.4 L275.6,898.7 L277.7,904.3 L281.1,898.7 L282.0,903.1 L284.1,893.8 L286.6,906.8 L289.6,898.2 L292.2,898.2 L294.3,906.9 L296.4,893.9 L298.9,901.3 L301.5,895.9 L304.0,898.9 L304.9,890.3 L307.0,905.1 L311.2,896.5 L312.5,904.6 L315.9,909.5 L317.6,897.8 L320.2,904.7 L322.7,899.1 L325.7,893.1 L328.2,909.2 L332.0,907.7 L333.3,899.7 L335.9,911.7 L338.4,898.4 L340.1,907.2 L342.2,906.7 L344.3,905.0 L346.5,895.2 L349.0,913.1 L352.4,912.0 L354.5,902.8 L357.1,913.8 L359.2,897.9 L362.2,906.5 L364.7,902.1 L367.2,889.9 L370.2,907.7 L374.5,892.9 L377.9,904.6 L380.0,887.4 L382.5,896.6 L384.6,892.9 L386.3,893.4 L388.5,879.9 L391.4,900.2 L395.5,886.8 L398.9,899.1 L401.0,881.8 L403.6,891.7 L406.5,889.2 L409.1,876.2 L411.6,899.0 L414.2,898.3 L416.7,886.6 L419.7,902.0 L421.8,884.7 L424.8,891.5 L427.3,898.9 L429.9,884.7 L433.3,907.4 L437.1,892.7 L440.5,907.4 L443.0,887.7 L445.6,898.8 L448.1,896.2 L450.7,878.9 L454.1,899.7 L457.9,881.1 L459.6,880.5 L461.7,893.4 L463.4,871.2 L466.4,881.0 L468.1,869.9 L471.9,855.8 L474.9,879.8 L479.1,862.6 L482.5,879.2 L484.6,857.7 L487.2,870.6 L490.1,868.7 L492.7,851.2 L495.6,879.8 L500.3,863.2 L503.3,882.2 L505.4,860.1 L508.4,874.2 L511.3,871.1 L513.5,854.5 L516.9,882.8 L521.2,864.7 L524.3,881.3 L526.5,858.2 L529.1,871.5 L531.8,866.4 L534.9,846.5 L537.5,874.6 L540.6,855.4 L542.4,871.4 L545.0,872.8 L547.2,847.8 L550.3,861.3 L552.1,857.4 L555.6,837.0 L558.3,867.1 L562.7,844.7 L565.8,865.3 L568.0,839.1 L570.6,855.7 L573.3,853.2 L576.4,834.0 L579.0,869.3 L583.9,852.7 L587.0,878.4 L589.2,850.9 L591.8,868.2 L594.9,867.0 L597.6,847.8 L600.2,884.3 L604.6,862.6 L607.7,887.5 L609.9,858.8 L612.6,873.5 L615.2,868.4 L617.9,845.3 L621.0,882.4 L625.8,854.7 L628.9,875.7 L630.7,843.1 L633.8,857.8 L635.6,849.4 L638.6,824.5 L642.2,859.6 L646.3,831.3 L649.8,852.1 L652.1,818.9 L654.4,835.6 L656.1,829.7 L660.1,804.4 L663.0,843.6 L667.6,819.6 L670.4,845.9 L672.7,815.2 L675.0,833.5 L676.7,831.9 L680.8,808.8 L683.6,852.2 L688.2,835.0 L691.1,866.7 L693.4,836.4 L696.3,859.5 L699.1,854.5 L702.0,828.0 L704.9,868.0 L708.9,841.4 L712.3,870.6 L714.6,835.7 L716.9,856.5 L719.8,849.9 L722.7,824.5 L725.6,866.6 L730.1,837.4 L733.0,864.9 L735.3,828.2 L738.2,847.4 L739.9,839.0 L743.4,808.6 L746.8,849.8 L750.8,819.8 L754.3,849.7 L756.6,813.0 L759.4,833.8 L760.6,827.9 L764.0,800.3 L767.5,846.0 L771.7,813.4 L775.1,843.7 L777.1,805.4 L780.1,827.2 L782.6,816.3 L785.5,796.9 L788.2,846.8 L792.7,821.3 L795.7,854.3 L798.2,814.4 L801.1,837.7 L803.6,831.9 L806.1,807.3 L809.5,855.3 L813.7,823.7 L816.7,856.5 L819.0,816.2 L822.0,839.8 L824.1,824.3 L827.1,807.7 L830.1,859.2 L834.6,829.4 L838.0,864.5 L840.2,824.0 L843.0,849.8 L845.5,847.7 L848.1,823.6 L850.6,881.1 L855.6,857.9 L858.6,897.6 L861.0,858.9 L864.8,889.7 L867.3,888.7 L869.0,857.8 L872.0,916.4 L876.6,888.2 L879.4,926.1 L881.6,882.4 L885.0,908.2 L887.5,896.2 L890.0,869.5 L892.5,923.2 L897.1,886.0 L900.2,918.4 L902.4,871.3 L905.3,894.0 L907.7,875.0 L910.9,845.9 L913.7,897.1 L918.3,856.2 L921.4,887.0 L923.6,836.7 L926.0,862.9 L928.9,856.7 L931.3,820.2 L934.5,876.4 L938.7,840.9 L942.0,879.1 L944.4,832.8 L947.2,860.8 L949.3,855.4 L951.7,820.4 L955.3,877.9 L959.9,842.6 L962.8,881.3 L965.2,832.5 L967.7,860.5 L970.5,855.7 L973.4,823.8 L976.2,883.1 L980.4,846.1 L983.5,885.4 L986.1,836.7 L988.9,866.3 L991.7,858.1 L993.9,823.2 L997.1,880.6 L1001.6,841.7 L1004.7,879.2 L1006.6,824.4 L1010.1,849.1 L1014.5,794.6 L1018.3,852.4 L1022.8,811.3 L1025.8,849.5 L1028.8,799.5 L1031.8,824.7 L1034.8,785.6 L1038.8,854.3 L1043.8,819.0 L1046.3,863.1 L1049.0,813.1 L1052.0,841.4 L1055.8,802.2 L1059.5,870.8 L1064.3,832.7 L1067.5,876.2 L1070.0,821.9 L1073.0,850.1 L1076.8,804.4 L1080.5,873.5 L1085.1,829.4 L1088.4,869.5 L1091.8,810.6 L1094.8,831.1 L1097.8,787.9 L1101.6,847.8 L1106.1,799.4 L1109.1,842.0 L1112.8,784.5 L1116.6,807.2 L1118.1,768.9 L1122.3,833.0 L1126.3,788.2 L1130.1,840.4 L1133.8,782.6 L1136.8,818.4 L1140.5,765.6 L1143.4,841.1 L1148.1,795.8 L1150.9,847.8 L1153.1,785.7 L1156.0,819.3 L1157.7,795.8 L1161.0,756.3 L1164.4,829.3 L1169.4,779.0 L1172.2,822.6 L1174.1,755.5 L1176.9,758.9 L1182.3,715.2 L1185.3,787.4 L1189.5,726.1 L1192.9,774.0 L1195.1,702.7 L1197.9,738.7 L1200.4,706.8 L1203.0,669.6 L1206.3,747.1 L1210.5,691.7 L1213.9,743.8 L1216.0,681.0 L1218.9,720.3 L1221.4,700.1 L1223.9,669.9 L1226.9,757.2 L1231.5,714.4 L1234.8,775.6 L1236.8,711.9 L1239.9,757.2 L1244.9,706.8 L1248.3,792.4 L1252.4,743.8 L1255.5,800.8 L1257.8,733.7 L1260.0,775.5 L1265.7,711.9 L1268.8,791.4 L1273.3,735.7 L1276.3,787.8 L1278.6,711.9 L1281.2,743.7 L1283.0,715.4 L1286.9,671.2 L1290.0,750.7 L1294.5,688.9 L1297.5,741.9 L1299.2,670.4 L1302.4,710.1 L1307.3,641.2 L1310.7,727.8 L1315.1,674.8 L1318.3,732.2 L1320.4,660.3 L1322.7,704.8 L1325.4,676.5 L1328.6,643.0 L1331.6,735.7 L1336.3,685.4 L1339.5,743.7 L1341.3,668.6 L1343.9,711.9 L1346.6,681.8 L1349.2,644.7 L1350.0,644.5 L1352.4,738.0 L1357.1,677.0 L1360.2,733.9 L1362.2,656.7 L1364.6,697.4 L1367.3,668.9 L1370.3,626.3 L1373.4,720.7 L1378.0,662.8 L1380.9,727.8 L1382.9,648.6 L1386.2,693.3 L1388.2,666.9 L1391.2,633.4 L1394.3,736.0 L1398.8,682.1 L1402.4,754.3 L1403.8,681.1 L1405.9,736.0 L1408.9,707.5 L1412.4,671.0 L1415.0,780.7 L1420.1,725.8 L1423.1,794.9 L1425.2,713.6 L1428.2,764.4 L1429.6,733.9 L1432.3,695.3 L1433.7,770.1" fill="none" stroke="#1f77b4" stroke-width="4.17" stroke-linejoin="round"/>
<text x="104.37" y="531.0" font-size="28" textLength="15.21" lengthAdjust="spacingAndGlyphs">0</text>
<text x="35.88" y="446.9" font-size="28" textLength="83.97" lengthAdjust="spacingAndGlyphs">20000</text>
<text x="36.39" y="362.8" font-size="28" textLength="83.45" lengthAdjust="spacingAndGlyphs">40000</text>
<text x="36.67" y="278.8" font-size="28" textLength="83.16" lengthAdjust="spacingAndGlyphs">60000</text>
<text x="37.28" y="194.8" font-size="28" textLength="82.55" lengthAdjust="spacingAndGlyphs">80000</text>
<text x="20.34" y="110.7" font-size="28" textLength="99.80" lengthAdjust="spacingAndGlyphs">100000</text>
<text x="1454.82" y="525.9" font-size="28" textLength="41.45" lengthAdjust="spacingAndGlyphs">0.0</text>
<text x="1454.83" y="449.8" font-size="28" textLength="41.45" lengthAdjust="spacingAndGlyphs">0.2</text>
<text x="1454.87" y="373.7" font-size="28" textLength="40.33" lengthAdjust="spacingAndGlyphs">0.4</text>
<text x="1454.83" y="297.6" font-size="28" textLength="41.42" lengthAdjust="spacingAndGlyphs">0.6</text>
<text x="1454.83" y="221.5" font-size="28" textLength="41.42" lengthAdjust="spacingAndGlyphs">0.8</text>
<text x="1455.22" y="145.4" font-size="28" textLength="40.05" lengthAdjust="spacingAndGlyphs">1.0</text>
<text x="1455.18" y="69.3" font-size="28" textLength="41.10" lengthAdjust="spacingAndGlyphs">1.2</text>
<text x="619.71" y="43.4" font-size="34" textLength="335.34" lengthAdjust="spacingAndGlyphs">Ad Spend Awareness</text>
<text x="1386.38" y="50.9" font-size="28" textLength="47.58" lengthAdjust="spacingAndGlyphs">1e7</text>
<text x="1126.90" y="102.9" font-size="28" textLength="284.42" lengthAdjust="spacingAndGlyphs">Ad Spend (Observed)</text>
<text x="1127.01" y="142.8" font-size="28" textLength="142.00" lengthAdjust="spacingAndGlyphs">True Effect</text>
<text x="36.39" y="1039.0" font-size="28" textLength="83.45" lengthAdjust="spacingAndGlyphs">40000</text>
<text x="36.67" y="962.6" font-size="28" textLength="83.16" lengthAdjust="spacingAndGlyphs">60000</text>
<text x="37.28" y="886.2" font-size="28" textLength="82.55" lengthAdjust="spacingAndGlyphs">80000</text>
<text x="20.34" y="809.8" font-size="28" textLength="99.80" lengthAdjust="spacingAndGlyphs">100000</text>
<text x="20.34" y="733.4" font-size="28" textLength="99.80" lengthAdjust="spacingAndGlyphs">120000</text>
<text x="20.34" y="657.0" font-size="28" textLength="99.80" lengthAdjust="spacingAndGlyphs">140000</text>
<text x="1454.76" y="1057.1" font-size="28" textLength="58.38" lengthAdjust="spacingAndGlyphs">0.00</text>
<text x="1454.76" y="992.9" font-size="28" textLength="58.10" lengthAdjust="spacingAndGlyphs">0.25</text>
<text x="1454.76" y="928.7" font-size="28" textLength="58.38" lengthAdjust="spacingAndGlyphs">0.50</text>
<text x="1454.76" y="864.4" font-size="28" textLength="58.10" lengthAdjust="spacingAndGlyphs">0.75</text>
<text x="1455.28" y="800.2" font-size="28" textLength="57.85" lengthAdjust="spacingAndGlyphs">1.00</text>
<text x="1455.26" y="736.0" font-size="28" textLength="57.60" lengthAdjust="spacingAndGlyphs">1.25</text>
<text x="1455.28" y="671.8" font-size="28" textLength="57.85" lengthAdjust="spacingAndGlyphs">1.50</text>
<text x="654.80" y="590.2" font-size="34" textLength="265.71" lengthAdjust="spacingAndGlyphs">Last-Click Spend</text>
<text x="1386.56" y="597.8" font-size="28" textLength="48.48" lengthAdjust="spacingAndGlyphs">1e7</text>
<text x="237.62" y="649.7" font-size="28" textLength="379.47" lengthAdjust="spacingAndGlyphs">Last-Click Spend (Observed)</text>
<text x="238.81" y="689.7" font-size="28" textLength="141.11" lengthAdjust="spacingAndGlyphs">True Effect</text>
<text x="311.25" y="1108.0" font-size="28" textLength="67.89" lengthAdjust="spacingAndGlyphs">2001</text>
<text x="582.93" y="1108.0" font-size="28" textLength="67.93" lengthAdjust="spacingAndGlyphs">2002</text>
<text x="855.64" y="1108.0" font-size="28" textLength="67.89" lengthAdjust="spacingAndGlyphs">2003</text>
<text x="1128.36" y="1108.0" font-size="28" textLength="66.83" lengthAdjust="spacingAndGlyphs">2004</text>
<text x="1401.25" y="1108.0" font-size="28" textLength="67.89" lengthAdjust="spacingAndGlyphs">2005</text>
</svg></body></html>
